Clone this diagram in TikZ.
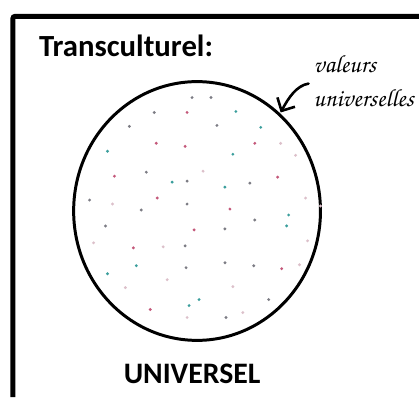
\documentclass[tikz,border=0pt]{standalone}
\usepackage[T1]{fontenc}
\usepackage{fontspec}
\setmainfont{Carlito}
\usetikzlibrary{arrows.meta}
\definecolor{dotred}{HTML}{C4587A}
\definecolor{dotteal}{HTML}{3A9E9C}
\definecolor{dotgray}{HTML}{7C7C84}
\definecolor{dotpale}{HTML}{DCC0CA}
\newcommand{\handfont}{\fontencoding{T1}\fontfamily{pzc}\fontseries{m}\fontshape{it}\selectfont}
\begin{document}
\begin{tikzpicture}[x=1bp,y=-1bp,line width=0.4pt,every node/.style={inner sep=0pt}]
\useasboundingbox (0,0) rectangle (421,399);
\fill[white] (0,0) rectangle (421,399);
\coordinate (C) at (198,212);
\coordinate (A) at (310,84);
\coordinate (P) at (282,113);
\draw[line width=5bp,rounded corners=2bp] (13,399) -- (13,16.5) -- (421,16.5);
\draw[line width=3bp] (C) ellipse[x radius=124,y radius=130];
\draw[line width=2.6bp,line cap=round,-{Straight Barb[length=10bp,width=20bp,line width=2.6bp]}] (A) .. controls (298,86) and (290,98) .. (P);
\begin{scope}[radius=1.6]
\foreach \p in {(157,144),(186,147),(256,144),(115,177),(279,178),(158,199),(231,210),(134,249),(283,270),(151,311),(195,231),(188,113)}
  \fill[dotred] \p circle;
\foreach \p in {(108,152),(262,128),(173,183),(226,188),(290,216),(288,227),(108,275),(137,267),(200,301),(190,307),(237,112),(234,155)}
  \fill[dotteal] \p circle;
\foreach \p in {(130,127),(218,126),(147,173),(188,182),(251,184),(90,201),(142,211),(188,205),(106,227),(226,230),(256,221),(186,247),(187,269),(226,264),(255,267),(270,301),(227,319),(193,98),(212,98),(155,113)}
  \fill[dotgray] \p circle;
\foreach \p in {(282,144),(297,156),(204,172),(113,205),(307,199),(94,244),(164,248),(309,242),(301,266),(168,281),(126,289),(234,288),(188,319),(244,314),(322,207)}
  \fill[dotpale] \p circle;
\end{scope}
\node[anchor=base west,font=\bfseries\fontsize{31}{31}\selectfont] (T) at (39,57) {Transculturel:};
\node[anchor=base,font=\bfseries\fontsize{30}{30}\selectfont] (U) at (193,385) {UNIVERSEL};
\node[anchor=base west,font=\handfont\fontsize{25}{25}\selectfont] (V1) at (315,73) {valeurs};
\node[anchor=base west,font=\handfont\fontsize{25}{25}\selectfont] (V2) at (315,107) {universelles};
\end{tikzpicture}
\end{document}
